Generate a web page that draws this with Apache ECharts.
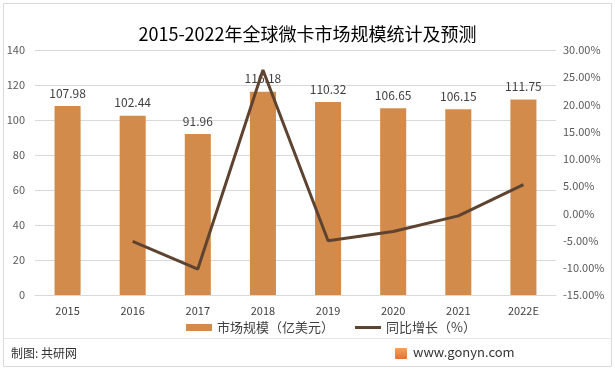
<!DOCTYPE html>
<html><head><meta charset="utf-8">
<script src="https://cdn.jsdelivr.net/npm/echarts@6/dist/echarts.min.js"></script>
<style>html,body{margin:0;padding:0;background:#fff}#c{width:615px;height:371px}</style>
</head><body><div id="c"></div>
<script>
const categories = ['2015','2016','2017','2018','2019','2020','2021','2022E'];
const marketSize = [107.98,102.44,91.96,116.18,110.32,106.65,106.15,111.75];
const growth = [null,-5.13,-10.23,26.34,-5.04,-3.33,-0.47,5.28];
const leftTicks = {min:0,max:140,interval:20};
const rightTicks = {min:-15,max:30,interval:5};

const font = "'Noto Sans CJK SC', 'Noto Sans', sans-serif";
const chart = echarts.init(document.getElementById('c'));
chart.setOption({
  animation:false,
  backgroundColor:'#fff',
  textStyle:{fontFamily:font},
  title:{text:'2015-2022年全球微卡市场规模统计及预测',left:'center',top:20,
    textStyle:{fontSize:18,fontWeight:'normal',color:'#000',fontFamily:font}},
  grid:{left:35,right:59,top:50,bottom:76,containLabel:false},
  legend:[
    {left:181,top:316,itemWidth:26,itemHeight:7,itemGap:4,
     textStyle:{fontSize:13,color:'#404040',fontFamily:font},
     data:[{name:'市场规模（亿美元）',icon:'rect'}]},
    {left:350,top:316,itemWidth:26,itemHeight:3,itemGap:4,
     textStyle:{fontSize:13,color:'#404040',fontFamily:font},
     data:[{name:'同比增长（%）',icon:'rect',itemStyle:{color:'#5E4330'}}]}
  ],
  xAxis:{type:'category',data:categories,
    axisLine:{lineStyle:{color:'#d9d9d9'}},axisTick:{show:false},
    axisLabel:{color:'#404040',fontSize:11,margin:10}},
  yAxis:[
    {type:'value',min:leftTicks.min,max:leftTicks.max,interval:leftTicks.interval,
     axisLabel:{color:'#595959',fontSize:11,margin:10},
     splitLine:{lineStyle:{color:'#d9d9d9'}},axisLine:{show:false},axisTick:{show:false}},
    {type:'value',min:rightTicks.min,max:rightTicks.max,interval:rightTicks.interval,
     axisLabel:{color:'#595959',fontSize:11,margin:7,formatter:v=>v.toFixed(2)+'%'},
     splitLine:{show:false},axisLine:{show:false},axisTick:{show:false}}
  ],
  series:[
    {name:'市场规模（亿美元）',type:'bar',data:marketSize,barWidth:'40%',
     itemStyle:{color:'#D38B4C'},
     label:{show:true,position:'top',distance:7,color:'#404040',fontSize:12,
       formatter:p=>p.value.toFixed(2)}},
    {name:'同比增长（%）',type:'line',yAxisIndex:1,data:growth,
     symbol:'none',lineStyle:{color:'#5E4330',width:3},itemStyle:{color:'#5E4330'}}
  ],
  graphic:[
    {type:'rect',shape:{x:3.5,y:3.5,width:608,height:363},style:{fill:'none',stroke:'#d9d9d9',lineWidth:1},silent:true},
    {type:'line',shape:{x1:4,y1:338.5,x2:611,y2:338.5},style:{stroke:'#e6e6e6',lineWidth:1}},
    {type:'text',left:11,top:347,style:{text:'制图: 共研网',font:'12px '+font,fill:'#333'}},
    {type:'rect',shape:{x:395,y:348,width:12,height:11,r:1},style:{fill:new echarts.graphic.LinearGradient(0,0,0,1,[{offset:0,color:'#F5A15A'},{offset:1,color:'#E9702B'}])}},
    {type:'text',left:413,top:346,style:{text:'www.gonyn.com',font:'13px '+font,fill:'#333'}}
  ]
});
</script></body></html>
